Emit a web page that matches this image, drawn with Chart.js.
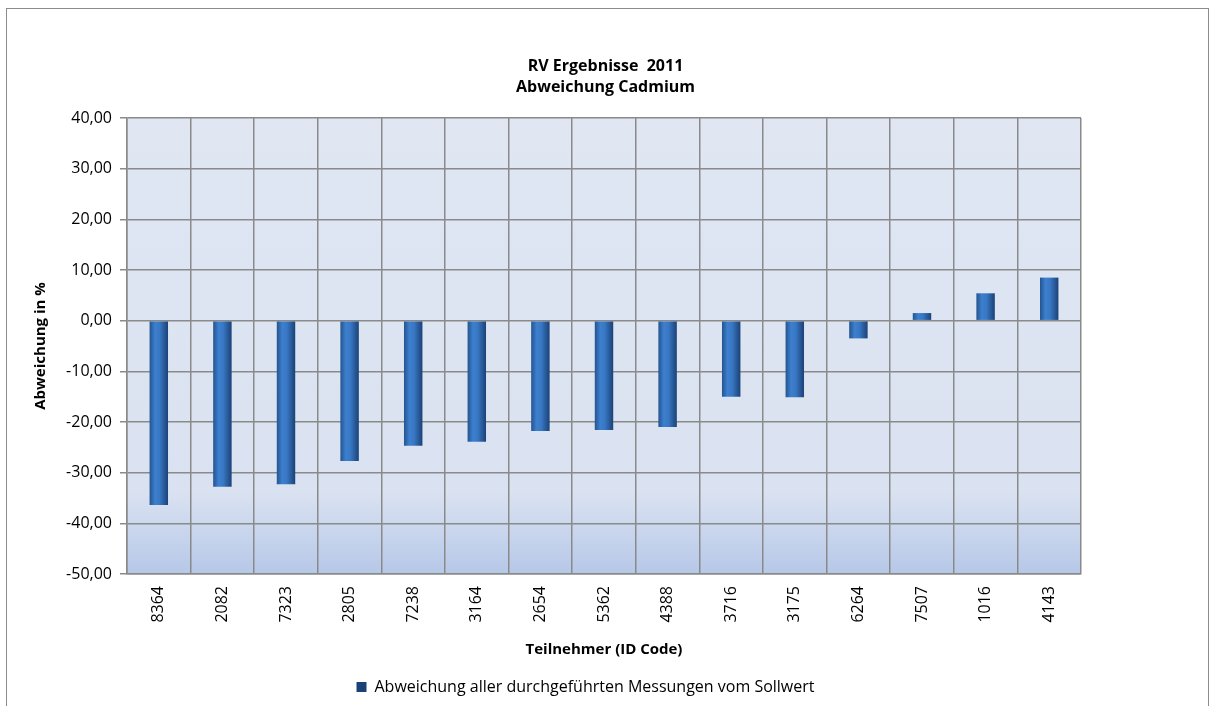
<!DOCTYPE html>
<html>
<head>
<meta charset="utf-8">
<script src="https://cdn.jsdelivr.net/npm/chart.js@4.4.1/dist/chart.umd.min.js"></script>
<style>
  body { margin: 0; background: #fff; }
  canvas { display: block; }
</style>
</head>
<body>
<canvas id="chart" width="1211" height="706"></canvas>
<script>
// Teilnehmer (ID Code) und Abweichung in %
const categories = ['8364', '2082', '7323', '2805', '7238', '3164', '2654', '5362', '4388', '3716', '3175', '6264', '7507', '1016', '4143'];
const deviations = [-36.4, -32.8, -32.3, -27.7, -24.7, -23.9, -21.8, -21.6, -21.0, -15.0, -15.1, -3.5, 1.5, 5.4, 8.5];
const titleLines = ['RV Ergebnisse  2011', 'Abweichung Cadmium'];
const seriesName = 'Abweichung aller durchgeführten Messungen vom Sollwert';

const FONT = 'Open Sans';
const BAR_PCT = 0.29;

// white page + grey frame + plot background
const backdrop = {
  id: 'backdrop',
  afterLayout(chart) {
    // legend sits a bit left of centre in the original
    if (chart.legend) chart.legend.right -= 40;
  },
  beforeDraw(chart) {
    const { ctx, chartArea: a } = chart;
    ctx.save();
    ctx.fillStyle = '#fff';
    ctx.fillRect(0, 0, chart.width, chart.height);
    ctx.strokeStyle = '#8c8c8c';
    ctx.lineWidth = 1;
    ctx.strokeRect(6.5, 8.5, 1202, 720);
    const g = ctx.createLinearGradient(0, a.top, 0, a.bottom);
    g.addColorStop(0, '#e0e7f3');
    g.addColorStop(0.82, '#dae2f1');
    g.addColorStop(1, '#b6c8e8');
    ctx.fillStyle = g;
    ctx.fillRect(a.left, a.top, a.right - a.left, a.bottom - a.top);
    ctx.restore();
  }
};

function barFill(c) {
  if (c.type !== 'data') return '#3b78c4';
  const xs = c.chart.scales.x;
  if (!xs || !xs.width) return '#3b78c4';
  const cx = xs.getPixelForValue(c.dataIndex);
  const w = xs.width / categories.length * BAR_PCT;
  const g = c.chart.ctx.createLinearGradient(cx - w / 2, 0, cx + w / 2, 0);
  g.addColorStop(0, '#24548f');
  g.addColorStop(0.3, '#3d80cf');
  g.addColorStop(0.55, '#3877c3');
  g.addColorStop(1, '#1b4277');
  return g;
}

new Chart(document.getElementById('chart'), {
  type: 'bar',
  data: {
    labels: categories,
    datasets: [{
      label: seriesName,
      data: deviations,
      backgroundColor: barFill,
      borderColor: '#1f4a82',
      borderWidth: 0,
      barPercentage: BAR_PCT,
      categoryPercentage: 1
    }]
  },
  plugins: [backdrop],
  options: {
    responsive: false,
    animation: false,
    layout: { padding: { left: 0, right: 0, top: 0, bottom: 1 } },
    plugins: {
      title: {
        display: true,
        text: titleLines,
        color: '#000',
        font: { family: FONT, size: 16, weight: 'bold', lineHeight: 1.3125 },
        padding: { top: 56, bottom: 20 }
      },
      legend: {
        position: 'bottom',
        labels: {
          color: '#000',
          font: { family: FONT, size: 16 },
          boxWidth: 10,
          boxHeight: 10,
          padding: 12
        }
      },
      tooltip: { enabled: false }
    },
    scales: {
      x: {
        grid: { color: '#8a8a8a', lineWidth: 1.5, drawTicks: false, offset: true },
        border: { color: '#8a8a8a', width: 1.5 },
        ticks: {
          color: '#000',
          font: { family: FONT, size: 16 },
          minRotation: 90,
          maxRotation: 90,
          padding: 12
        },
        title: {
          display: true,
          text: 'Teilnehmer (ID Code)',
          color: '#000',
          font: { family: FONT, size: 15, weight: 'bold' },
          padding: { top: 0, bottom: 8 }
        },
        afterFit(s) { s.height = 93; }
      },
      y: {
        min: -50,
        max: 40,
        grid: { color: '#8a8a8a', lineWidth: 1.5, tickLength: 7 },
        border: { color: '#8a8a8a', width: 1.5 },
        ticks: {
          stepSize: 10,
          color: '#000',
          font: { family: FONT, size: 16 },
          padding: 8,
          callback: v => v.toFixed(2).replace('.', ',')
        },
        title: {
          display: true,
          text: 'Abweichung in %',
          color: '#000',
          font: { family: FONT, size: 15, weight: 'bold' },
          padding: { top: 32, bottom: 0 }
        },
        afterFit(s) { s.width = 127; }
      },
      yRight: {
        position: 'right',
        display: true,
        grid: { display: false },
        border: { display: false },
        ticks: { display: false },
        afterFit(s) { s.width = 130; }
      }
    }
  }
});
</script>
</body>
</html>
